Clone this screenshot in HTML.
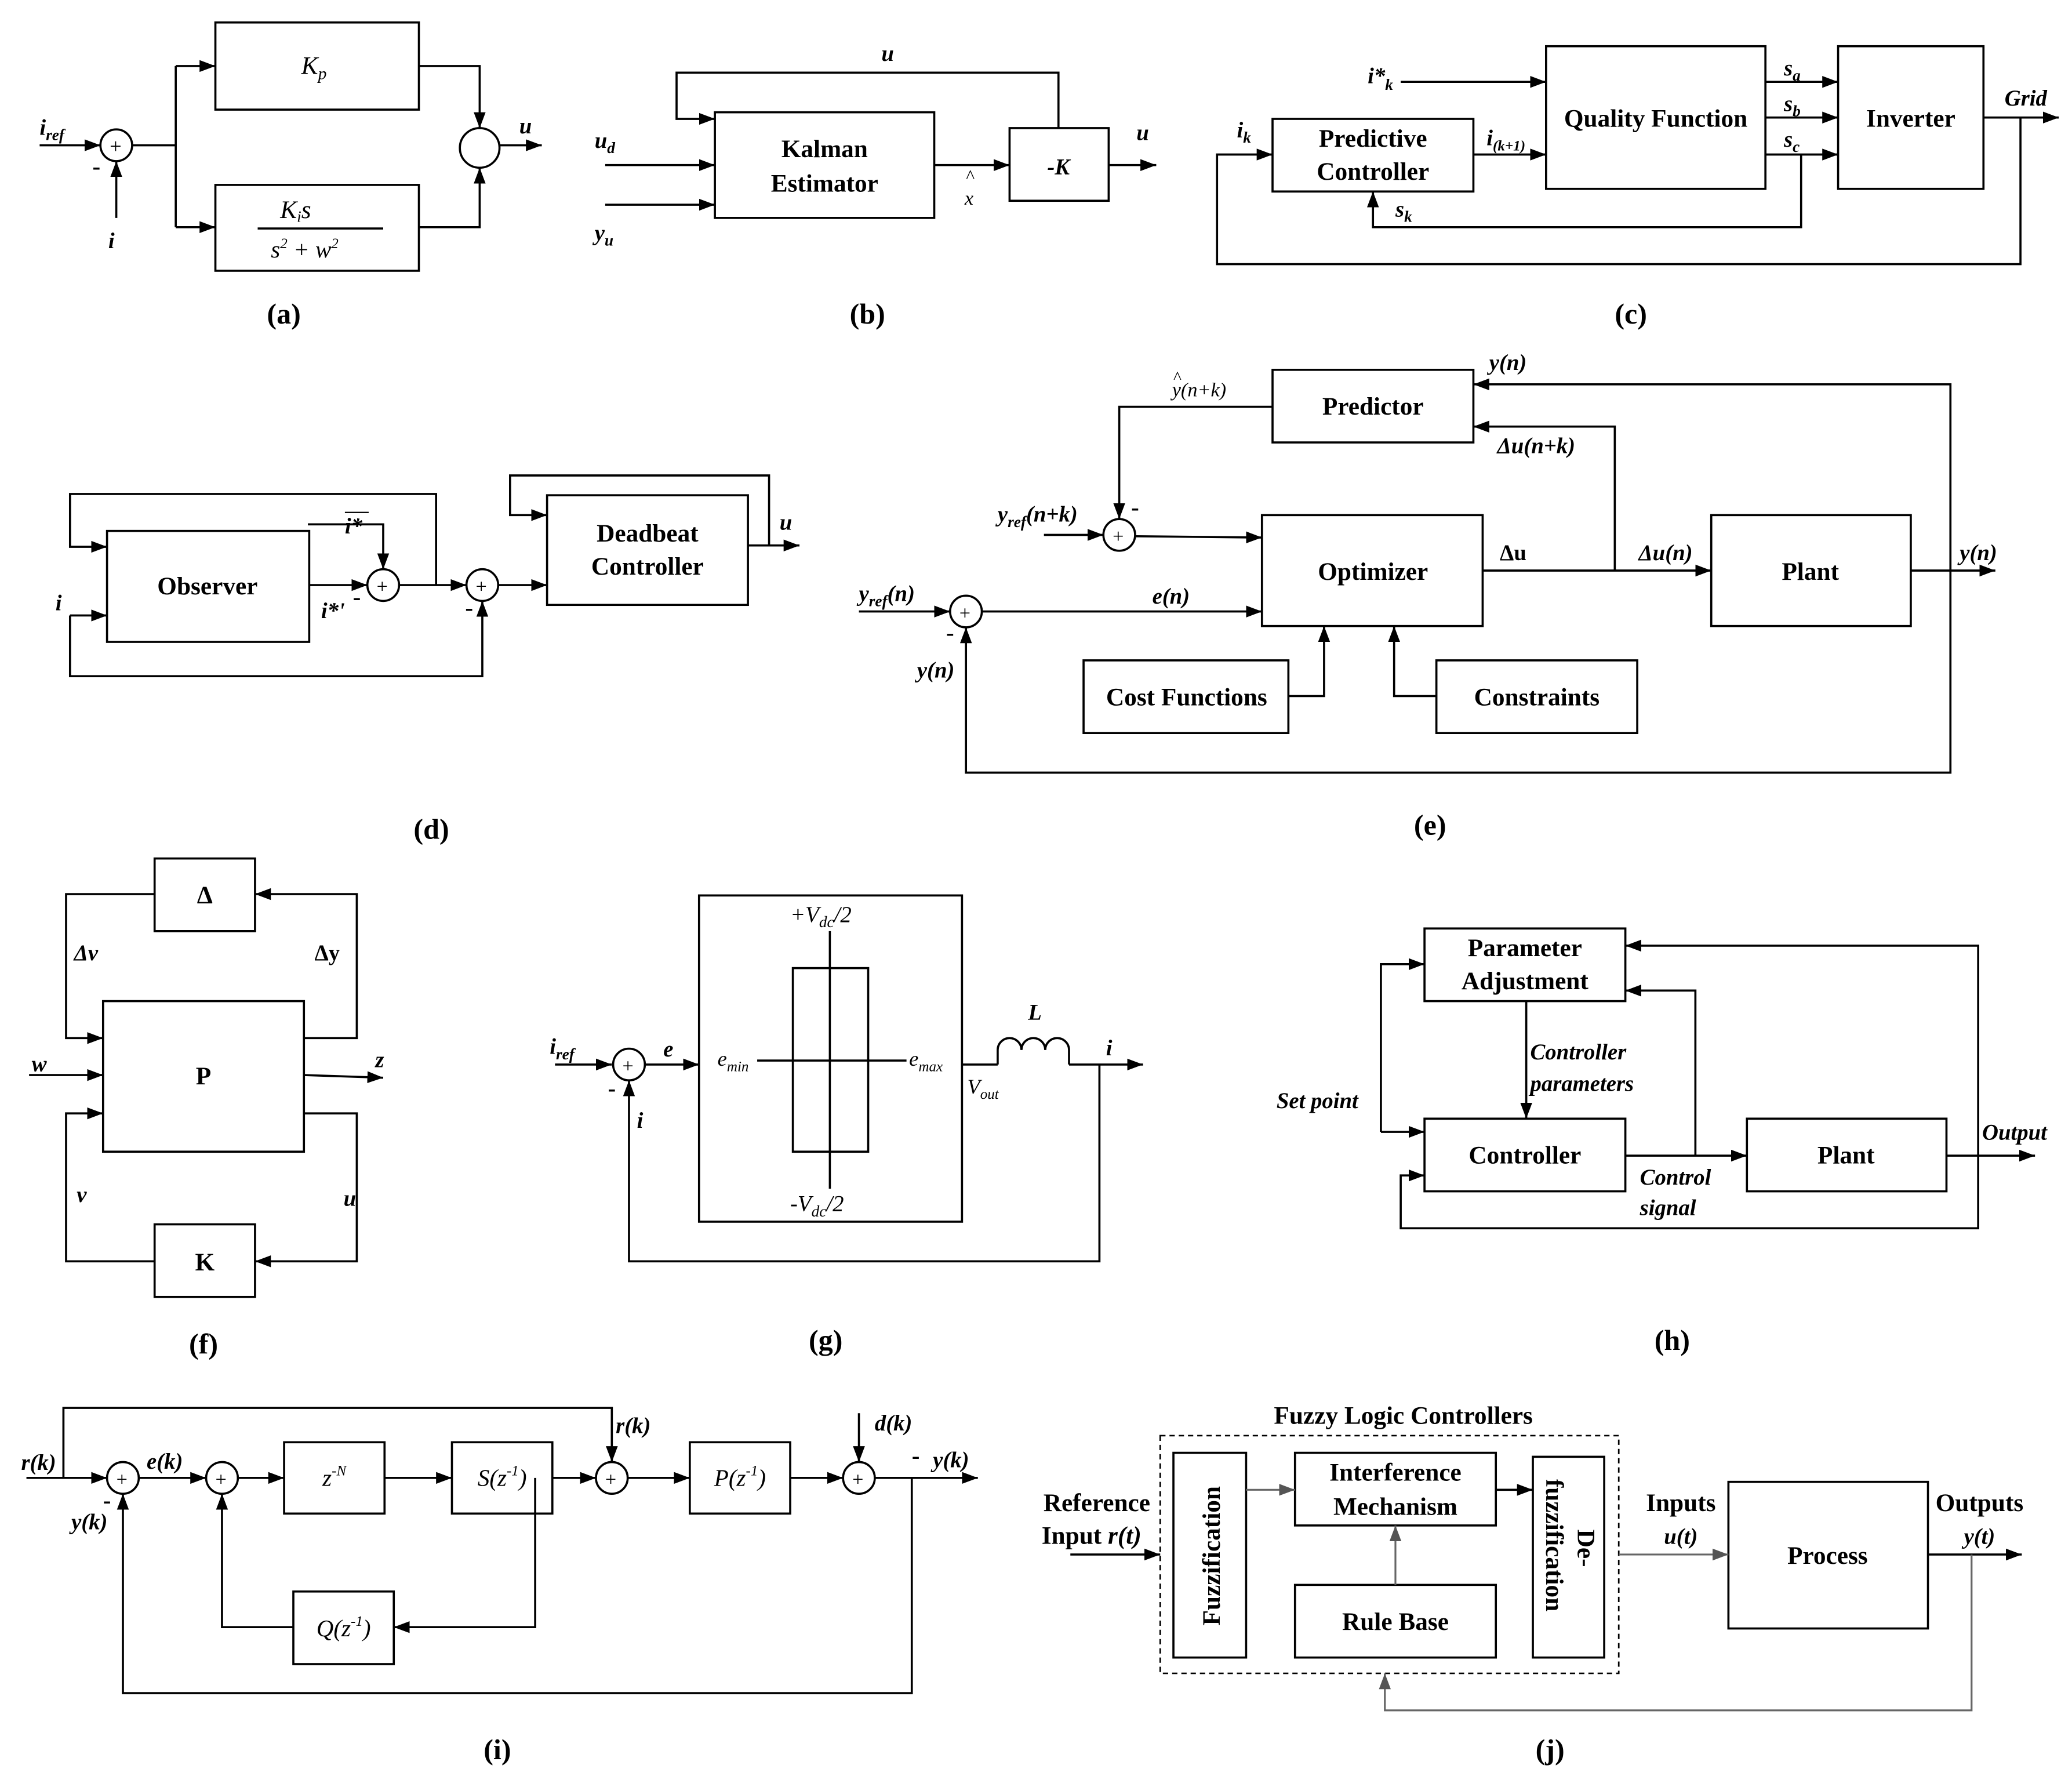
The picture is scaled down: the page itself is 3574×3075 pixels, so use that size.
<!DOCTYPE html>
<html><head><meta charset="utf-8"><style>
html,body{margin:0;padding:0;background:#fff;}
svg{display:block;}
text{font-family:"Liberation Serif",serif;fill:#000;}
.b{font-weight:bold;}
.i{font-style:italic;}
.bt{font-weight:bold;font-size:19px;}
.lb{font-weight:bold;font-style:italic;font-size:17px;}
.cap{font-weight:bold;font-size:22px;}
</style></head><body>
<svg width="3574" height="3075" viewBox="0 0 1568 1350" preserveAspectRatio="none" xmlns="http://www.w3.org/2000/svg">
<defs>
<marker id="a" markerUnits="userSpaceOnUse" markerWidth="13" markerHeight="10" refX="12" refY="4.5" orient="auto"><path d="M0,0 L12,4.5 L0,9 Z" fill="#000"/></marker>
<marker id="g" markerUnits="userSpaceOnUse" markerWidth="13" markerHeight="10" refX="12" refY="4.5" orient="auto"><path d="M0,0 L12,4.5 L0,9 Z" fill="#555"/></marker>
</defs>
<g fill="none" stroke="#000" stroke-width="1.6">
<!-- (a) -->
<line x1="30" y1="110" x2="76" y2="110" marker-end="url(#a)"/>
<circle cx="88" cy="110" r="12"/>
<line x1="88" y1="165" x2="88" y2="122" marker-end="url(#a)"/>
<polyline points="100,110 133,110"/>
<polyline points="133,50 133,172"/>
<line x1="133" y1="50" x2="163" y2="50" marker-end="url(#a)"/>
<line x1="133" y1="172" x2="163" y2="172" marker-end="url(#a)"/>
<rect x="163" y="17" width="154" height="66"/>
<rect x="163" y="140" width="154" height="65"/>
<line x1="195" y1="173" x2="290" y2="173"/>
<polyline points="317,50 363,50 363,97" marker-end="url(#a)"/>
<polyline points="317,172 363,172 363,127" marker-end="url(#a)"/>
<circle cx="363" cy="112" r="15"/>
<line x1="378" y1="110" x2="410" y2="110" marker-end="url(#a)"/>
<!-- (b) -->
<rect x="541" y="85" width="166" height="80"/>
<rect x="764" y="97" width="75" height="55"/>
<polyline points="801,97 801,55 512,55 512,90 541,90" marker-end="url(#a)"/>
<line x1="458" y1="125" x2="541" y2="125" marker-end="url(#a)"/>
<line x1="458" y1="155" x2="541" y2="155" marker-end="url(#a)"/>
<line x1="707" y1="125" x2="764" y2="125" marker-end="url(#a)"/>
<line x1="839" y1="125" x2="875" y2="125" marker-end="url(#a)"/>
<!-- (c) -->
<rect x="963" y="90" width="152" height="55"/>
<rect x="1170" y="35" width="166" height="108"/>
<rect x="1391" y="35" width="110" height="108"/>
<line x1="1060" y1="62" x2="1170" y2="62" marker-end="url(#a)"/>
<line x1="1115" y1="117" x2="1170" y2="117" marker-end="url(#a)"/>
<line x1="1336" y1="62" x2="1391" y2="62" marker-end="url(#a)"/>
<line x1="1336" y1="89" x2="1391" y2="89" marker-end="url(#a)"/>
<line x1="1336" y1="117" x2="1391" y2="117" marker-end="url(#a)"/>
<line x1="1501" y1="89" x2="1558" y2="89" marker-end="url(#a)"/>
<polyline points="1529,89 1529,200 921,200 921,117 963,117" marker-end="url(#a)"/>
<polyline points="1363,117 1363,172 1039,172 1039,145" marker-end="url(#a)"/>
<!-- (d) -->
<rect x="81" y="402" width="153" height="84"/>
<rect x="414" y="375" width="152" height="83"/>
<circle cx="290" cy="443" r="12"/>
<circle cx="365" cy="443" r="12"/>
<line x1="234" y1="443" x2="278" y2="443" marker-end="url(#a)"/>
<polyline points="233,397 290,397 290,431" marker-end="url(#a)"/>
<line x1="302" y1="443" x2="353" y2="443" marker-end="url(#a)"/>
<polyline points="330,443 330,374 53,374 53,414 81,414" marker-end="url(#a)"/>
<line x1="53" y1="466" x2="81" y2="466" marker-end="url(#a)"/>
<polyline points="53,466 53,512 365,512 365,455" marker-end="url(#a)"/>
<line x1="377" y1="443" x2="414" y2="443" marker-end="url(#a)"/>
<line x1="566" y1="413" x2="605" y2="413" marker-end="url(#a)"/>
<polyline points="582,413 582,360 386,360 386,390 414,390" marker-end="url(#a)"/>
<!-- (e) -->
<rect x="963" y="280" width="152" height="55"/>
<rect x="955" y="390" width="167" height="84"/>
<rect x="1295" y="390" width="151" height="84"/>
<rect x="820" y="500" width="155" height="55"/>
<rect x="1087" y="500" width="152" height="55"/>
<circle cx="847" cy="405" r="12"/>
<circle cx="731" cy="463" r="12"/>
<polyline points="963,308 847,308 847,393" marker-end="url(#a)"/>
<line x1="790" y1="405" x2="835" y2="405" marker-end="url(#a)"/>
<line x1="859" y1="406" x2="955" y2="407" marker-end="url(#a)"/>
<line x1="650" y1="463" x2="719" y2="463" marker-end="url(#a)"/>
<line x1="743" y1="463" x2="955" y2="463" marker-end="url(#a)"/>
<polyline points="1476,432 1476,585 731,585 731,475" marker-end="url(#a)"/>
<line x1="1446" y1="432" x2="1510" y2="432" marker-end="url(#a)"/>
<polyline points="1476,432 1476,291 1115,291" marker-end="url(#a)"/>
<line x1="1122" y1="432" x2="1295" y2="432" marker-end="url(#a)"/>
<polyline points="1222,432 1222,323 1115,323" marker-end="url(#a)"/>
<polyline points="975,527 1002,527 1002,474" marker-end="url(#a)"/>
<polyline points="1087,527 1055,527 1055,474" marker-end="url(#a)"/>
<!-- (f) -->
<rect x="117" y="650" width="76" height="55"/>
<rect x="78" y="758" width="152" height="114"/>
<rect x="117" y="927" width="76" height="55"/>
<polyline points="117,677 50,677 50,786 78,786" marker-end="url(#a)"/>
<polyline points="230,786 270,786 270,677 193,677" marker-end="url(#a)"/>
<line x1="22" y1="814" x2="78" y2="814" marker-end="url(#a)"/>
<line x1="230" y1="814" x2="290" y2="816" marker-end="url(#a)"/>
<polyline points="230,843 270,843 270,955 193,955" marker-end="url(#a)"/>
<polyline points="117,955 50,955 50,843 78,843" marker-end="url(#a)"/>
<!-- (g) -->
<rect x="529" y="678" width="199" height="247"/>
<rect x="600" y="733" width="57" height="139"/>
<line x1="628" y1="705" x2="628" y2="900"/>
<line x1="573" y1="803" x2="686" y2="803"/>
<line x1="420" y1="806" x2="463" y2="806" marker-end="url(#a)"/>
<circle cx="476" cy="806" r="12"/>
<line x1="488" y1="806" x2="529" y2="806" marker-end="url(#a)"/>
<line x1="728" y1="806" x2="755" y2="806"/>
<path d="M755,806 L755,795 A9,9 0 0 1 773,795 A9,9 0 0 1 791,795 A9,9 0 0 1 809,795 L809,806"/>
<line x1="809" y1="806" x2="865" y2="806" marker-end="url(#a)"/>
<polyline points="832,806 832,955 476,955 476,818" marker-end="url(#a)"/>
<!-- (h) -->
<rect x="1078" y="703" width="152" height="55"/>
<rect x="1078" y="847" width="152" height="55"/>
<rect x="1322" y="847" width="151" height="55"/>
<line x1="1045" y1="857" x2="1078" y2="857" marker-end="url(#a)"/>
<polyline points="1045,857 1045,730 1078,730" marker-end="url(#a)"/>
<line x1="1155" y1="758" x2="1155" y2="847" marker-end="url(#a)"/>
<line x1="1230" y1="875" x2="1322" y2="875" marker-end="url(#a)"/>
<polyline points="1283,875 1283,750 1230,750" marker-end="url(#a)"/>
<line x1="1473" y1="875" x2="1540" y2="875" marker-end="url(#a)"/>
<polyline points="1497,875 1497,716 1230,716" marker-end="url(#a)"/>
<polyline points="1497,875 1497,930 1060,930 1060,890 1078,890" marker-end="url(#a)"/>
<!-- (i) -->
<rect x="215" y="1092" width="76" height="54"/>
<rect x="342" y="1092" width="76" height="54"/>
<rect x="522" y="1092" width="76" height="54"/>
<rect x="222" y="1205" width="76" height="55"/>
<circle cx="93" cy="1119" r="12"/>
<circle cx="168" cy="1119" r="12"/>
<circle cx="463" cy="1119" r="12"/>
<circle cx="650" cy="1119" r="12"/>
<line x1="20" y1="1119" x2="81" y2="1119" marker-end="url(#a)"/>
<polyline points="48,1119 48,1066 463,1066 463,1107" marker-end="url(#a)"/>
<line x1="105" y1="1119" x2="156" y2="1119" marker-end="url(#a)"/>
<line x1="180" y1="1119" x2="215" y2="1119" marker-end="url(#a)"/>
<line x1="291" y1="1119" x2="342" y2="1119" marker-end="url(#a)"/>
<line x1="418" y1="1119" x2="451" y2="1119" marker-end="url(#a)"/>
<line x1="475" y1="1119" x2="522" y2="1119" marker-end="url(#a)"/>
<line x1="598" y1="1119" x2="638" y2="1119" marker-end="url(#a)"/>
<line x1="662" y1="1119" x2="740" y2="1119" marker-end="url(#a)"/>
<line x1="650" y1="1070" x2="650" y2="1107" marker-end="url(#a)"/>
<polyline points="405,1119 405,1232 298,1232" marker-end="url(#a)"/>
<polyline points="222,1232 168,1232 168,1131" marker-end="url(#a)"/>
<polyline points="690,1119 690,1282 93,1282 93,1131" marker-end="url(#a)"/>
<!-- (j) -->
<rect x="878" y="1087" width="347" height="180" stroke-dasharray="4,3" stroke-width="1.2"/>
<rect x="888" y="1100" width="55" height="155"/>
<rect x="980" y="1100" width="152" height="55"/>
<rect x="980" y="1200" width="152" height="55"/>
<rect x="1160" y="1103" width="54" height="152"/>
<rect x="1308" y="1122" width="151" height="111"/>
<line x1="810" y1="1177" x2="878" y2="1177" marker-end="url(#a)"/>
<line x1="1132" y1="1128" x2="1160" y2="1128" marker-end="url(#a)"/>
<line x1="1459" y1="1177" x2="1530" y2="1177" marker-end="url(#a)"/>
</g>
<g fill="none" stroke="#666" stroke-width="1.4">
<line x1="943" y1="1128" x2="980" y2="1128" marker-end="url(#g)"/>
<line x1="1056" y1="1200" x2="1056" y2="1155" marker-end="url(#g)"/>
<line x1="1225" y1="1177" x2="1308" y2="1177" marker-end="url(#g)"/>
<polyline points="1492,1177 1492,1295 1048,1295 1048,1267" marker-end="url(#g)"/>
</g>

<!-- text (a) -->
<text x="83" y="116" font-size="16">+</text>
<text x="30" y="102" class="lb">i<tspan font-size="12" dy="4">ref</tspan></text>
<text x="70" y="132" class="b" font-size="18">-</text>
<text x="82" y="188" class="lb">i</text>
<text x="228" y="56" class="i" font-size="19">K<tspan font-size="13" dy="4">p</tspan></text>
<text x="212" y="165" class="i" font-size="19">K<tspan font-size="12" dy="3">i</tspan><tspan dy="-3">s</tspan></text>
<text x="205" y="195" class="i" font-size="18">s<tspan font-size="11" dy="-7">2</tspan><tspan dy="7"> + w</tspan><tspan font-size="11" dy="-7">2</tspan></text>
<text x="393" y="101" class="lb">u</text>
<text x="202" y="245" class="cap">(a)</text>
<!-- (b) -->
<text x="667" y="46" class="lb">u</text>
<text x="624" y="119" class="bt" text-anchor="middle">Kalman</text>
<text x="624" y="145" class="bt" text-anchor="middle">Estimator</text>
<text x="801" y="132" class="lb" text-anchor="middle">-K</text>
<text x="450" y="112" class="lb">u<tspan font-size="12" dy="4">d</tspan></text>
<text x="450" y="182" class="lb">y<tspan font-size="12" dy="4">u</tspan></text>
<text x="731" y="138" font-size="14">^</text>
<text x="730" y="155" class="i" font-size="15">x</text>
<text x="860" y="106" class="lb">u</text>
<text x="643" y="245" class="cap">(b)</text>
<!-- (c) -->
<text x="1035" y="63" class="lb">i*<tspan font-size="12" dy="5">k</tspan></text>
<text x="1039" y="111" class="bt" text-anchor="middle">Predictive</text>
<text x="1039" y="136" class="bt" text-anchor="middle">Controller</text>
<text x="1253" y="96" class="bt" text-anchor="middle">Quality Function</text>
<text x="1446" y="96" class="bt" text-anchor="middle">Inverter</text>
<text x="1125" y="110" class="lb">i<tspan font-size="11" dy="4">(k+1)</tspan></text>
<text x="1350" y="57" class="lb">s<tspan font-size="12" dy="4">a</tspan></text>
<text x="1350" y="84" class="lb">s<tspan font-size="12" dy="4">b</tspan></text>
<text x="1350" y="111" class="lb">s<tspan font-size="12" dy="4">c</tspan></text>
<text x="1517" y="80" class="lb">Grid</text>
<text x="936" y="104" class="lb">i<tspan font-size="12" dy="4">k</tspan></text>
<text x="1056" y="164" class="lb">s<tspan font-size="12" dy="4">k</tspan></text>
<text x="1222" y="245" class="cap">(c)</text>
<!-- (d) -->
<text x="157" y="450" class="bt" text-anchor="middle">Observer</text>
<text x="490" y="410" class="bt" text-anchor="middle">Deadbeat</text>
<text x="490" y="435" class="bt" text-anchor="middle">Controller</text>
<text x="285" y="449" font-size="15">+</text>
<text x="360" y="449" font-size="15">+</text>
<text x="261" y="404" class="lb">i*</text>
<line x1="261" y1="388" x2="279" y2="388" stroke="#000"/>
<text x="267" y="458" class="b" font-size="18">-</text>
<text x="243" y="468" class="lb">i*'</text>
<text x="42" y="462" class="lb">i</text>
<text x="352" y="466" class="b" font-size="18">-</text>
<text x="590" y="401" class="lb">u</text>
<text x="313" y="635" class="cap">(d)</text>
<!-- (e) -->
<text x="1039" y="314" class="bt" text-anchor="middle">Predictor</text>
<text x="1039" y="439" class="bt" text-anchor="middle">Optimizer</text>
<text x="1370" y="439" class="bt" text-anchor="middle">Plant</text>
<text x="898" y="534" class="bt" text-anchor="middle">Cost Functions</text>
<text x="1163" y="534" class="bt" text-anchor="middle">Constraints</text>
<text x="842" y="411" font-size="15">+</text>
<text x="726" y="469" font-size="15">+</text>
<text x="887" y="300" class="i" font-size="15">y(n+k)</text>
<text x="888" y="290" font-size="13">^</text>
<text x="856" y="390" class="b" font-size="18">-</text>
<text x="755" y="395" class="lb">y<tspan font-size="12" dy="4">ref</tspan><tspan dy="-4">(n+k)</tspan></text>
<text x="650" y="455" class="lb">y<tspan font-size="12" dy="4">ref</tspan><tspan dy="-4">(n)</tspan></text>
<text x="872" y="457" class="lb">e(n)</text>
<text x="716" y="485" class="b" font-size="18">-</text>
<text x="694" y="513" class="lb">y(n)</text>
<text x="1483" y="424" class="lb">y(n)</text>
<text x="1127" y="280" class="lb">y(n)</text>
<text x="1135" y="424" class="b" font-size="17">Δu</text>
<text x="1240" y="424" class="lb">Δu(n)</text>
<text x="1133" y="343" class="lb">Δu(n+k)</text>
<text x="1070" y="632" class="cap">(e)</text>
<!-- (f) -->
<text x="155" y="684" class="bt" text-anchor="middle">Δ</text>
<text x="154" y="821" class="bt" text-anchor="middle">P</text>
<text x="155" y="962" class="bt" text-anchor="middle">K</text>
<text x="56" y="727" class="lb">Δv</text>
<text x="238" y="727" class="b" font-size="17">Δy</text>
<text x="24" y="811" class="lb">w</text>
<text x="284" y="808" class="lb">z</text>
<text x="260" y="913" class="lb">u</text>
<text x="58" y="910" class="lb">v</text>
<text x="143" y="1025" class="cap">(f)</text>
<!-- (g) -->
<text x="598" y="698" class="i" font-size="17">+V<tspan font-size="12" dy="4">dc</tspan><tspan dy="-4">/2</tspan></text>
<text x="598" y="917" class="i" font-size="17">-V<tspan font-size="12" dy="4">dc</tspan><tspan dy="-4">/2</tspan></text>
<text x="543" y="807" class="i" font-size="16">e<tspan font-size="11" dy="4">min</tspan></text>
<text x="688" y="807" class="i" font-size="16">e<tspan font-size="11" dy="4">max</tspan></text>
<text x="416" y="798" class="lb">i<tspan font-size="12" dy="4">ref</tspan></text>
<text x="471" y="812" font-size="15">+</text>
<text x="502" y="800" class="lb">e</text>
<text x="460" y="830" class="b" font-size="18">-</text>
<text x="482" y="854" class="lb">i</text>
<text x="778" y="772" class="lb">L</text>
<text x="732" y="828" class="i" font-size="16">V<tspan font-size="11" dy="4">out</tspan></text>
<text x="837" y="799" class="lb">i</text>
<text x="612" y="1022" class="cap">(g)</text>
<!-- (h) -->
<text x="1154" y="724" class="bt" text-anchor="middle">Parameter</text>
<text x="1154" y="749" class="bt" text-anchor="middle">Adjustment</text>
<text x="1154" y="881" class="bt" text-anchor="middle">Controller</text>
<text x="1397" y="881" class="bt" text-anchor="middle">Plant</text>
<text x="966" y="839" class="lb">Set point</text>
<text x="1158" y="802" class="lb">Controller</text>
<text x="1158" y="826" class="lb">parameters</text>
<text x="1241" y="897" class="lb">Control</text>
<text x="1241" y="920" class="lb">signal</text>
<text x="1500" y="863" class="lb">Output</text>
<text x="1252" y="1022" class="cap">(h)</text>
<!-- (i) -->
<text x="253" y="1125" class="i" font-size="18" text-anchor="middle">z<tspan font-size="11" dy="-8">-N</tspan></text>
<text x="380" y="1125" class="i" font-size="18" text-anchor="middle">S(z<tspan font-size="11" dy="-8">-1</tspan><tspan dy="8">)</tspan></text>
<text x="560" y="1125" class="i" font-size="18" text-anchor="middle">P(z<tspan font-size="11" dy="-8">-1</tspan><tspan dy="8">)</tspan></text>
<text x="260" y="1239" class="i" font-size="18" text-anchor="middle">Q(z<tspan font-size="11" dy="-8">-1</tspan><tspan dy="8">)</tspan></text>
<text x="88" y="1125" font-size="15">+</text>
<text x="163" y="1125" font-size="15">+</text>
<text x="458" y="1125" font-size="15">+</text>
<text x="645" y="1125" font-size="15">+</text>
<text x="16" y="1113" class="lb">r(k)</text>
<text x="466" y="1085" class="lb">r(k)</text>
<text x="111" y="1112" class="lb">e(k)</text>
<text x="662" y="1083" class="lb">d(k)</text>
<text x="706" y="1111" class="lb">y(k)</text>
<text x="690" y="1108" class="b" font-size="18">-</text>
<text x="78" y="1142" class="b" font-size="18">-</text>
<text x="54" y="1158" class="lb">y(k)</text>
<text x="366" y="1332" class="cap">(i)</text>
<!-- (j) -->
<text x="1062" y="1078" class="bt" text-anchor="middle">Fuzzy Logic Controllers</text>
<text x="1056" y="1121" class="bt" text-anchor="middle">Interference</text>
<text x="1056" y="1147" class="bt" text-anchor="middle">Mechanism</text>
<text x="1056" y="1234" class="bt" text-anchor="middle">Rule Base</text>
<text class="bt" transform="translate(923,1178) rotate(-90)" text-anchor="middle">Fuzzification</text>
<text class="bt" transform="translate(1194,1158) rotate(90)">De-</text>
<text class="bt" transform="translate(1170,1170) rotate(90)" text-anchor="middle">fuzzification</text>
<text x="1383" y="1184" class="bt" text-anchor="middle">Process</text>
<text x="830" y="1144" class="bt" text-anchor="middle">Reference</text>
<text x="826" y="1169" class="bt" text-anchor="middle">Input <tspan class="i">r(t)</tspan></text>
<text x="1272" y="1144" class="bt" text-anchor="middle">Inputs</text>
<text x="1272" y="1169" class="lb" text-anchor="middle">u(t)</text>
<text x="1498" y="1144" class="bt" text-anchor="middle">Outputs</text>
<text x="1498" y="1169" class="lb" text-anchor="middle">y(t)</text>
<text x="1162" y="1332" class="cap">(j)</text>
</svg>
</body></html>
